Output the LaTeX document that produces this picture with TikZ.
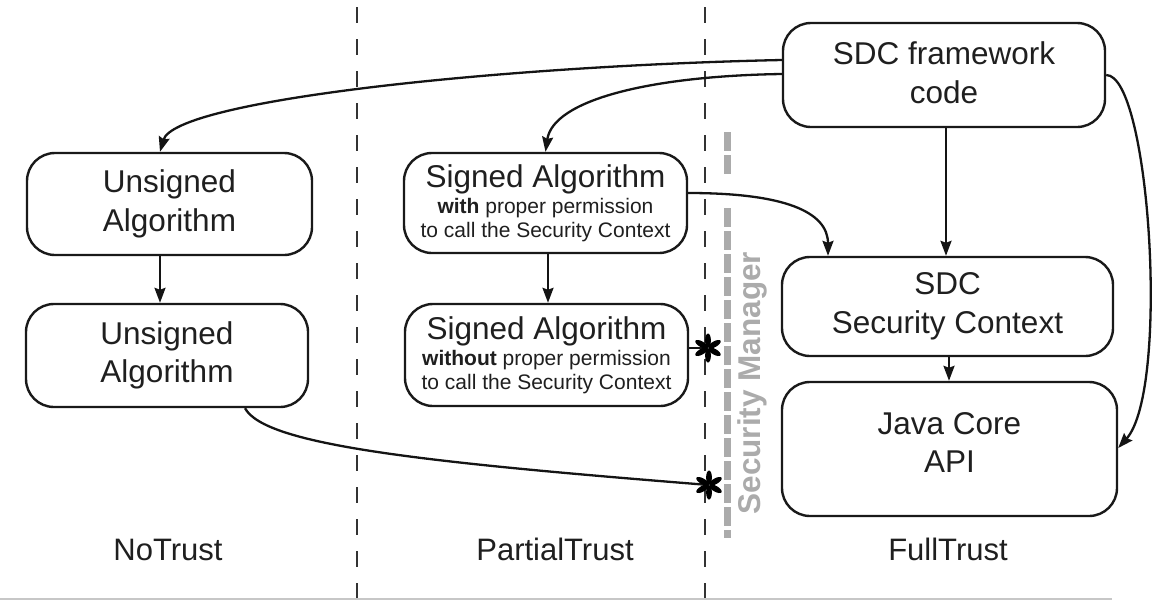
\documentclass[tikz,border=0pt]{standalone}
\usepackage{fontspec}
\setmainfont{Liberation Sans}
\usetikzlibrary{arrows.meta}
\begin{document}
\begin{tikzpicture}[x=1pt,y=-1pt,
  box/.style={draw=black!90, line width=2.4pt, rounded corners=28pt, align=center, inner sep=0pt, text=black!88, font=\fontsize{31.5}{38.5}\selectfont},
  sbox/.style={box, font=\fontsize{21}{24}\selectfont},
  conn/.style={line width=2.3pt, draw=black!92, -{Stealth[length=15pt,width=11pt,inset=2pt]}},
  plain/.style={line width=2.3pt, draw=black!92},
  zone/.style={draw=black!80, line width=1.1pt, dash pattern=on 16pt off 16pt, dash phase=25pt},
  guard/.style={draw=black!33, line width=7pt, dash pattern=on 19pt off 4pt},
  trust/.style={font=\fontsize{31}{36}\selectfont, anchor=base, inner sep=0pt, text=black!88},
  petal/.style={fill=black}
]
\fill[white] (0,0) rectangle (1152,600);
\useasboundingbox (0,0) rectangle (1152,600);

% zone separators
\draw[zone] (357,0) -- (357,600);
\draw[zone] (705,0) -- (705,600);
\draw[draw=black!22, line width=1.5pt] (0,599) -- (1112,599);

% security manager barrier
\draw[guard] (727,132) -- (727,177);
\draw[guard] (727,208) -- (727,538);
\node[rotate=90, anchor=base, text=black!33, inner sep=0pt, font=\bfseries\fontsize{31.5}{36}\selectfont] (sm) at (760,383) {Security Manager};

% boxes
\node[box, minimum width=322pt, minimum height=104pt] (fw) at (944,75) {SDC framework\\code\rule[-5pt]{0pt}{5pt}};
\node[box, minimum width=285pt, minimum height=102pt] (u1) at (169.5,204) {Unsigned\\Algorithm};
\node[box, minimum width=282pt, minimum height=103pt] (u2) at (167,355.5) {Unsigned\\Algorithm};
\node[sbox, minimum width=283pt, minimum height=100pt] (s1) at (545.5,203) {{\fontsize{31.5}{38.5}\selectfont Signed Algorithm}\\[2pt]\textbf{with} proper permission\\to call the Security Context};
\node[sbox, minimum width=283pt, minimum height=102pt] (s2) at (546.5,355) {{\fontsize{31.5}{38.5}\selectfont Signed Algorithm}\\[2pt]\textbf{without} proper permission\\to call the Security Context};
\node[box, minimum width=331pt, minimum height=99pt] (sc) at (947.5,306.5) {SDC\\Security Context};
\node[box, minimum width=335pt, minimum height=134pt] (java) at (949.5,449) {Java Core\\API\rule[-13pt]{0pt}{13pt}};

% zone labels
\node[trust] (nt) at (168,560) {NoTrust};
\node[trust] (pt) at (555,560) {PartialTrust};
\node[trust] (ft) at (948,560) {FullTrust};

% asterisks (blocked calls)
\coordinate (st1) at (708,348);
\coordinate (st2) at (709,485);

% connectors
\draw[conn] ([yshift=15pt]fw.west) .. controls (500,66) and (175,100) .. ([xshift=-9.5pt]u1.north);
\draw[conn] ([yshift=1pt]fw.west) .. controls (650,76) and (553,100) .. (s1.north);
\draw[conn] ([xshift=2pt]fw.south) -- ([xshift=2pt]fw.south |- sc.north);
\draw[conn] ([yshift=10pt]s1.east) .. controls (785,193) and (828,212) .. ([xshift=-119.5pt]sc.north);
\draw[conn] (fw.east) .. controls (1150,75) and (1170,390) .. ([yshift=1pt]java.east);
\draw[conn] ([xshift=-9.5pt]u1.south) -- ([xshift=-9.5pt]u1.south |- u2.north);
\draw[conn] ([xshift=2.5pt]s1.south) -- ([xshift=2.5pt]s1.south |- s2.north);
\draw[conn] ([xshift=1.5pt]sc.south) -- ([xshift=1.5pt]sc.south |- java.north);
\draw[plain] (s2.east |- st1) -- (st1);
\draw[plain] ([xshift=78pt]u2.south) .. controls (265,445) and (420,462) .. (st2);

\foreach \c in {st1,st2}
  \foreach \a in {90,30,-30,-90,-150,150}
    \fill[petal, shift={(\c)}, rotate=\a] (7.5pt,0) ellipse [x radius=7pt, y radius=2.9pt];
\end{tikzpicture}
\end{document}
